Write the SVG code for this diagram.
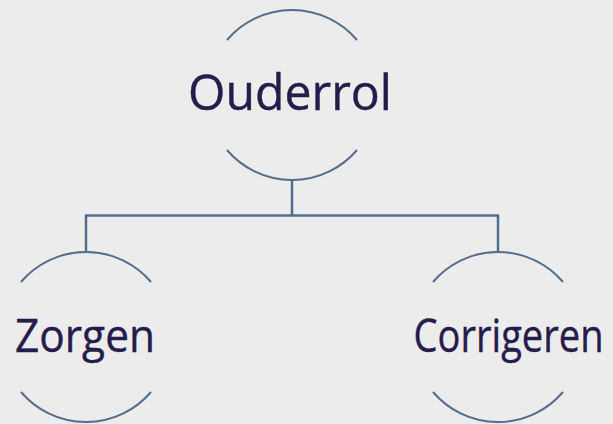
<svg xmlns="http://www.w3.org/2000/svg" width="613" height="424" viewBox="0 0 613 424">
<style>
.arc{fill:none;stroke:#536d8b;stroke-width:2}
.conn{fill:none;stroke:#536d8b;stroke-width:2.5}
.lbl{font-family:"Open Sans","Liberation Sans",sans-serif;fill:#261c4c;text-anchor:middle;stroke:#261c4c;stroke-width:0.4}
</style>
<rect width="613" height="424" fill="#ececec"/>
<g id="connectors">
<path class="conn" d="M292,180 V215.5 M86,215.5 H498 M86,214.5 V252 M498,214.5 V252"/>
</g>
<g id="node-ouderrol">
<path class="arc" d="M227,40 A85.4,85.4 0 0 1 357,40"/>
<path class="arc" d="M227,150 A85.4,85.4 0 0 0 357,150"/>
<text class="lbl" x="290" y="110" font-size="49" textLength="204" lengthAdjust="spacingAndGlyphs">Ouderrol</text>
</g>
<g id="node-zorgen">
<path class="arc" d="M21,282 A85.4,85.4 0 0 1 151,282"/>
<path class="arc" d="M21,392 A85.4,85.4 0 0 0 151,392"/>
<text class="lbl" x="85" y="352" font-size="46" textLength="140" lengthAdjust="spacingAndGlyphs">Zorgen</text>
</g>
<g id="node-corrigeren">
<path class="arc" d="M433,282 A85.4,85.4 0 0 1 563,282"/>
<path class="arc" d="M433,392 A85.4,85.4 0 0 0 563,392"/>
<text class="lbl" x="508.5" y="352" font-size="46" textLength="190" lengthAdjust="spacingAndGlyphs">Corrigeren</text>
</g>
</svg>
